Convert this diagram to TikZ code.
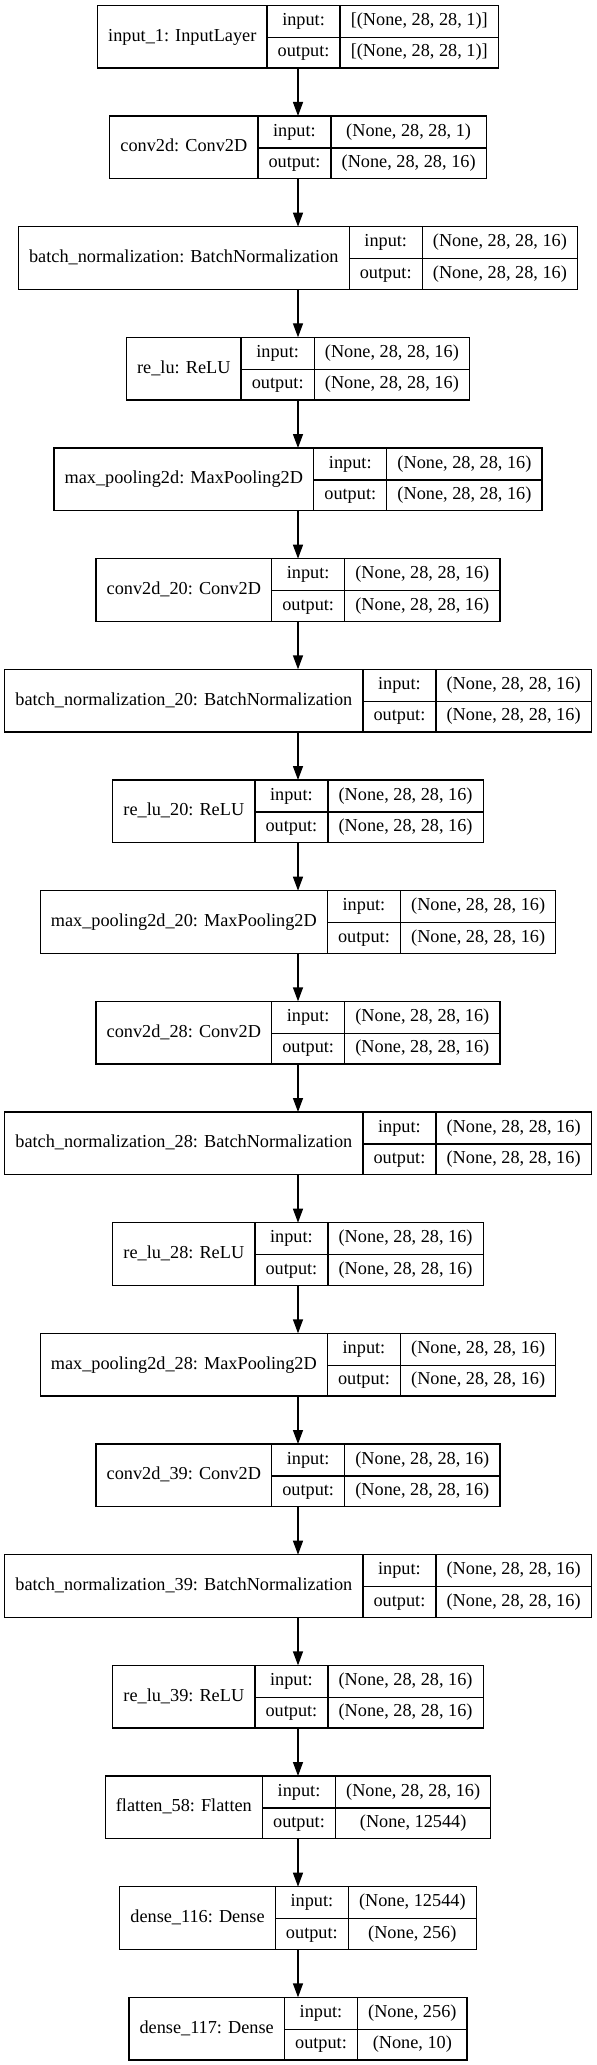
\documentclass[tikz,border=0pt]{standalone}
\usepackage{fontspec}
\setmainfont{Liberation Serif}
\usetikzlibrary{positioning,arrows.meta}

\setlength{\tabcolsep}{8pt}
\setlength{\arrayrulewidth}{1pt}
\newcommand{\rowstrut}{\rule[-8.4pt]{0pt}{23.5pt}}
\newcommand{\layerbox}[3]{%
    \begin{tabular}{c|c|c}
        & input: & #2\rowstrut\\ \cline{2-3}
        \raisebox{11.75pt}[0pt][0pt]{#1} & output: & #3\rowstrut
    \end{tabular}}
\newcommand{\shp}{(None, 28, 28, 16)}

\tikzset{
    layer/.style={draw, line width=1pt, inner sep=0pt, outer sep=0pt, font=\fontsize{13.7pt}{16pt}\selectfont},
}

\begin{document}
\begin{tikzpicture}[node distance=36pt, >={Triangle[length=10.5pt,width=7.5pt]}, line width=1pt]
            \useasboundingbox (0,0) rectangle (447pt,-1548.75pt);
            \node[layer, anchor=north] (input1) at (223.5pt,-4pt) {\layerbox{input\_1: InputLayer}{[(None, 28, 28, 1)]}{[(None, 28, 28, 1)]}};
            \node[layer, below=of input1] (conv) {\layerbox{conv2d: Conv2D}{(None, 28, 28, 1)}{\shp}};
            \node[layer, below=of conv] (bn) {\layerbox{batch\_normalization: BatchNormalization}{\shp}{\shp}};
            \node[layer, below=of bn] (relu) {\layerbox{re\_lu: ReLU}{\shp}{\shp}};
            \node[layer, below=of relu] (pool) {\layerbox{max\_pooling2d: MaxPooling2D}{\shp}{\shp}};
            \node[layer, below=of pool] (conv20) {\layerbox{conv2d\_20: Conv2D}{\shp}{\shp}};
            \node[layer, below=of conv20] (bn20) {\layerbox{batch\_normalization\_20: BatchNormalization}{\shp}{\shp}};
            \node[layer, below=of bn20] (relu20) {\layerbox{re\_lu\_20: ReLU}{\shp}{\shp}};
            \node[layer, below=of relu20] (pool20) {\layerbox{max\_pooling2d\_20: MaxPooling2D}{\shp}{\shp}};
            \node[layer, below=of pool20] (conv28) {\layerbox{conv2d\_28: Conv2D}{\shp}{\shp}};
            \node[layer, below=of conv28] (bn28) {\layerbox{batch\_normalization\_28: BatchNormalization}{\shp}{\shp}};
            \node[layer, below=of bn28] (relu28) {\layerbox{re\_lu\_28: ReLU}{\shp}{\shp}};
            \node[layer, below=of relu28] (pool28) {\layerbox{max\_pooling2d\_28: MaxPooling2D}{\shp}{\shp}};
            \node[layer, below=of pool28] (conv39) {\layerbox{conv2d\_39: Conv2D}{\shp}{\shp}};
            \node[layer, below=of conv39] (bn39) {\layerbox{batch\_normalization\_39: BatchNormalization}{\shp}{\shp}};
            \node[layer, below=of bn39] (relu39) {\layerbox{re\_lu\_39: ReLU}{\shp}{\shp}};
            \node[layer, below=of relu39] (flatten58) {\layerbox{flatten\_58: Flatten}{\shp}{(None, 12544)}};
            \node[layer, below=of flatten58] (dense116) {\layerbox{dense\_116: Dense}{(None, 12544)}{(None, 256)}};
            \node[layer, below=of dense116] (dense117) {\layerbox{dense\_117: Dense}{(None, 256)}{(None, 10)}};
            \foreach \a/\b in {input1/conv, conv/bn, bn/relu, relu/pool, pool/conv20, conv20/bn20,
                bn20/relu20, relu20/pool20, pool20/conv28, conv28/bn28, bn28/relu28, relu28/pool28,
                pool28/conv39, conv39/bn39, bn39/relu39, relu39/flatten58, flatten58/dense116, dense116/dense117}
                \draw [->] (\a.south) -- (\b.north);
        \end{tikzpicture}
\end{document}
